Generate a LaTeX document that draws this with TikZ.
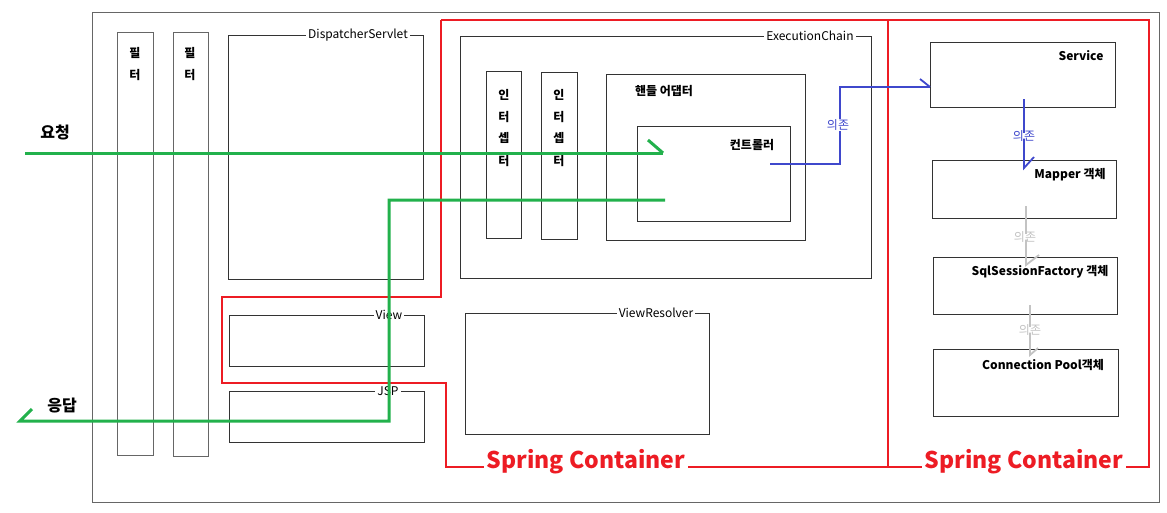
\documentclass[tikz,border=0pt]{standalone}
\usepackage{fontspec}
\setmainfont{Noto Sans CJK KR}
\newcommand\myfs[1]{\fontsize{#1}{#1}\selectfont}
\definecolor{gline}{HTML}{22B14C}
\definecolor{rline}{HTML}{ED1C24}
\definecolor{bline}{HTML}{3F48CC}
\definecolor{dline}{HTML}{C3C3C3}
\begin{document}
\begin{tikzpicture}[x=1pt,y=-1pt,
  box/.style={draw=black!80, line width=0.9pt, inner sep=0pt, anchor=north west},
  glabel/.style={fill=white, inner sep=2pt, font=\myfs{12}},
  blabel/.style={inner sep=0pt, font=\myfs{12}\bfseries},
  kch/.style={inner sep=0pt, font=\myfs{12}\bfseries},
  sc/.style={fill=white, text=rline, inner sep=3pt, font=\myfs{23}\bfseries},
  dep/.style={inner sep=0pt, font=\myfs{12}},
  red/.style={draw=rline, line width=1.8pt},
  green/.style={draw=gline, line width=3pt},
  blue/.style={draw=bline, line width=1.8pt},
  grey/.style={draw=dline, line width=1.8pt}]
\useasboundingbox (0,0) rectangle (1167,512);
\fill[white] (0,0) rectangle (1167,512);
% outer
\node[box, draw=black!60, minimum width=1067pt, minimum height=490pt] (outer) at (92,12) {};
% filters
\node[box, draw=black!60, minimum width=36pt, minimum height=423pt] (f1) at (117,32) {};
\node[box, draw=black!60, minimum width=35pt, minimum height=424pt] (f2) at (173,32) {};
\node[kch] (f1a) at (135,53) {필};
\node[kch] (f1b) at (135,75) {터};
\node[kch] (f2a) at (190,53) {필};
\node[kch] (f2b) at (190,75) {터};
% dispatcher
\node[box, minimum width=195pt, minimum height=244pt] (ds) at (228,35) {};
\node[glabel] (dsl) at (358,35) {DispatcherServlet};
% execution chain
\node[box, minimum width=411pt, minimum height=242pt] (ec) at (460,36) {};
\node[glabel] (ecl) at (810,36) {ExecutionChain};
% interceptors
\node[box, minimum width=35pt, minimum height=167pt] (i1) at (486,71) {};
\node[box, minimum width=36pt, minimum height=167pt] (i2) at (541,72) {};
\foreach \xx/\nm in {504/a,559/b}{
  \node[kch] (i\nm1) at (\xx,95) {인};
  \node[kch] (i\nm2) at (\xx,117) {터};
  \node[kch] (i\nm3) at (\xx,138) {셉};
  \node[kch] (i\nm4) at (\xx,161) {터};
}
% handler adapter
\node[box, minimum width=199pt, minimum height=166pt] (ha) at (606,74) {};
\node[kch] (hal) at (664,91) {핸들 어댑터};
\node[box, minimum width=153pt, minimum height=95pt] (ctl) at (637,126) {};
\node[kch] (ctll) at (752,145) {컨트롤러};
% view, jsp, viewresolver
\node[box, minimum width=195pt, minimum height=51pt] (view) at (229,315) {};
\node[glabel] (viewl) at (389,315) {View};
\node[box, minimum width=195pt, minimum height=51pt] (jsp) at (229,391) {};
\node[glabel] (jspl) at (388,391) {JSP};
\node[box, minimum width=244pt, minimum height=121pt] (vr) at (465,313) {};
\node[glabel] (vrl) at (656,313) {ViewResolver};
% right column
\node[box, minimum width=185pt, minimum height=65pt] (svc) at (930,42) {};
\node[blabel] (svcl) at (1081,56) {Service};
\node[box, minimum width=184pt, minimum height=58pt] (map) at (932,160) {};
\node[blabel] (mapl) at (1070,175) {Mapper 객체};
\node[box, minimum width=184pt, minimum height=57pt] (sql) at (933,257) {};
\node[blabel] (sqll) at (1040,272) {SqlSessionFactory 객체};
\node[box, minimum width=185pt, minimum height=67pt] (cp) at (933,349) {};
\node[blabel] (cpl) at (1043,365) {Connection Pool객체};
% red containers
\draw[red] (441,20) -- (441,297) -- (222,297) -- (222,383) -- (446,383) -- (446,467) -- (888,467);
\draw[red] (441,20) -- (1149,20) -- (1149,467) -- (888,467);
\draw[red] (888,20) -- (888,467);
\node[sc] (sc1) at (586,462) {Spring Container};
\node[sc] (sc2) at (1024,462) {Spring Container};
% blue dependencies
\node[dep, text=bline] (d1) at (838,125) {의존};
\coordinate (ctlout) at (770,164);
\coordinate (b1) at (840,164);
\coordinate (b2) at (840,87);
\coordinate (svcin) at (930,87);
\draw[blue] (ctlout) -- (b1) -- (d1.south -| b1);
\draw[blue] (d1.north -| b1) -- (b2) -- (svcin);
\draw[blue] (920,79) -- (svcin);
\node[dep, text=bline] (d2) at (1024,136) {의존};
\draw[blue] (1024,99) -- ([yshift=-3pt]d2.north);
\draw[blue] ([yshift=3pt]d2.south) -- (1024,168) -- (1034,157);
% grey dependencies
\node[dep, text=dline] (d3) at (1025,237) {의존};
\draw[grey] (1026,206) -- ([yshift=-3pt]d3.north -| 1026,0);
\draw[grey] ([yshift=3pt]d3.south -| 1026,0) -- (1026,265) -- (1039,255);
\node[dep, text=dline] (d4) at (1030,330) {의존};
\draw[grey] (1030,305) -- ([yshift=-3pt]d4.north);
\draw[grey] ([yshift=3pt]d4.south) -- (1030,355) -- (1038,348);
% labels
\node[inner sep=0pt, font=\myfs{16}\bfseries] (req) at (55,132) {요청};
\node[inner sep=0pt, font=\myfs{16}\bfseries] (res) at (62,406) {응답};
% green flows
\coordinate (reqstart) at (25,153);
\coordinate (reqend) at (663,153);
\draw[green] (reqstart) -- (reqend);
\draw[green] (648,140) -- (reqend);
\coordinate (resstart) at (665,200);
\coordinate (r1) at (389,200);
\coordinate (r2) at (389,421);
\coordinate (resend) at (20,421);
\draw[green] (resstart) -- (r1) -- (r2) -- (resend) -- (32,409);
\end{tikzpicture}
\end{document}
